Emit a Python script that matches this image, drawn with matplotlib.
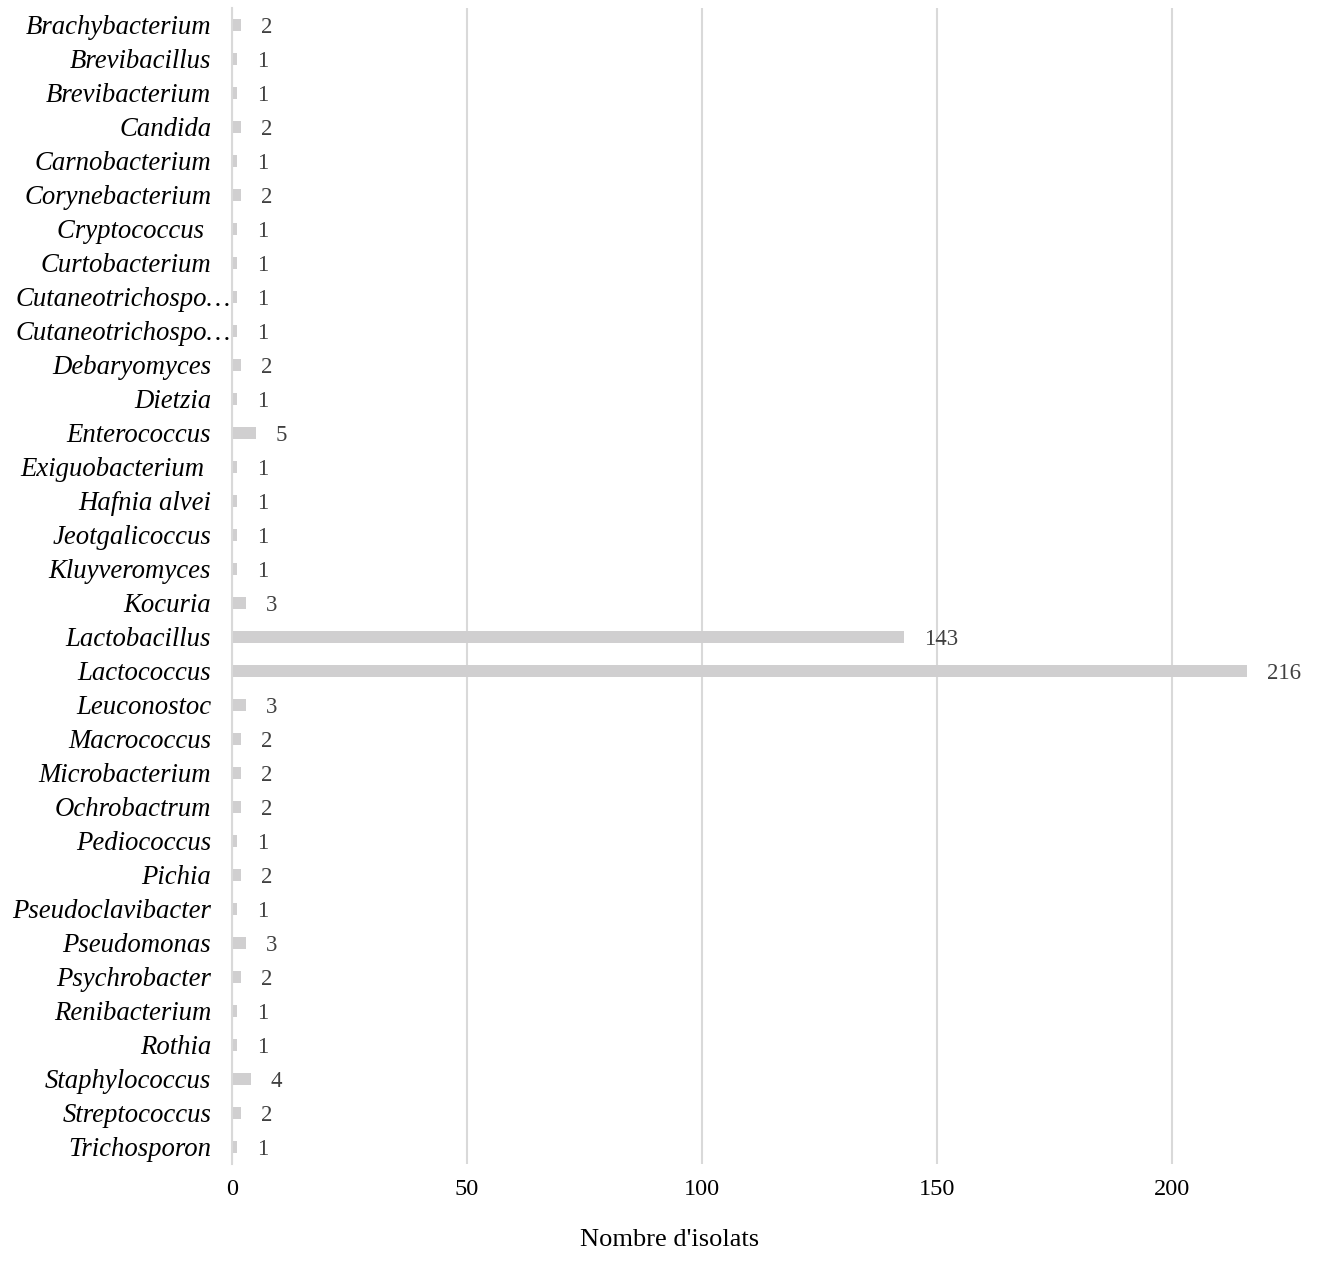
import matplotlib
matplotlib.use("Agg")
import matplotlib.pyplot as plt
import matplotlib.transforms as mtransforms

categories = [
    "Brachybacterium", "Brevibacillus", "Brevibacterium", "Candida", "Carnobacterium",
    "Corynebacterium", "Cryptococcus ", "Curtobacterium", "Cutaneotrichospo…", "Cutaneotrichospo…",
    "Debaryomyces", "Dietzia", "Enterococcus", "Exiguobacterium ", "Hafnia alvei",
    "Jeotgalicoccus", "Kluyveromyces", "Kocuria", "Lactobacillus", "Lactococcus",
    "Leuconostoc", "Macrococcus", "Microbacterium", "Ochrobactrum", "Pediococcus",
    "Pichia", "Pseudoclavibacter", "Pseudomonas", "Psychrobacter", "Renibacterium",
    "Rothia", "Staphylococcus", "Streptococcus", "Trichosporon",
]
values = [2, 1, 1, 2, 1, 2, 1, 1, 1, 1, 2, 1, 5, 1, 1, 1, 1, 3, 143, 216,
          3, 2, 2, 2, 1, 2, 1, 3, 2, 1, 1, 4, 2, 1]
xticks = [0, 50, 100, 150, 200]
xlabel = "Nombre d'isolats"

plt.rcParams['font.family'] = ['Liberation Serif', 'DejaVu Serif']

fig = plt.figure(figsize=(13.17, 12.74), dpi=100)
ax = fig.add_axes([232/1317, 1 - 1164/1274, (1313-232)/1317, (1164-8)/1274])

pos = list(range(len(categories)))
ax.barh(pos, values, height=0.36, color='#d0cfd0', zorder=3)
ax.set_yticks(pos)
# truncated labels (ending with an ellipsis) reach the axis line, as in the reference
tick_texts = ["" if c.endswith("…") else c for c in categories]
ax.set_yticklabels(tick_texts, fontsize=19.3, style='italic', color='black')
trans = mtransforms.blended_transform_factory(ax.transAxes, ax.transData) + \
    mtransforms.ScaledTranslation(-1/100, 0, fig.dpi_scale_trans)
for p, c in zip(pos, categories):
    if c.endswith("…"):
        ax.text(0, p, c, transform=trans, ha='right', va='center_baseline',
                fontsize=19.3, style='italic', color='black', clip_on=False)
ax.set_ylim(len(categories) - 0.5, -0.5)
ax.set_xlim(0, 230)
ax.set_xticks(xticks)
ax.set_xticklabels([str(t) for t in xticks], fontsize=17.5, color='black')
ax.tick_params(axis='y', length=0, pad=15)
ax.tick_params(axis='x', length=0, pad=11)
ax.grid(axis='x', color='#d9d9d9', linewidth=1.5, zorder=0)
for s in ['top', 'right', 'bottom']:
    ax.spines[s].set_visible(False)
ax.spines['left'].set_color('#d9d9d9')
ax.spines['left'].set_linewidth(1.5)
ax.spines['left'].set_zorder(4)

for p, v in zip(pos, values):
    ax.annotate(str(v), (v, p), xytext=(14.4, 0), textcoords='offset points',
                ha='left', va='center_baseline', fontsize=16.5, color='#404040')

fig.text(670/1317, 1 - 1240/1274, xlabel, ha='center', va='center', fontsize=19, color='black')

fig.savefig("out.png", dpi=100)
